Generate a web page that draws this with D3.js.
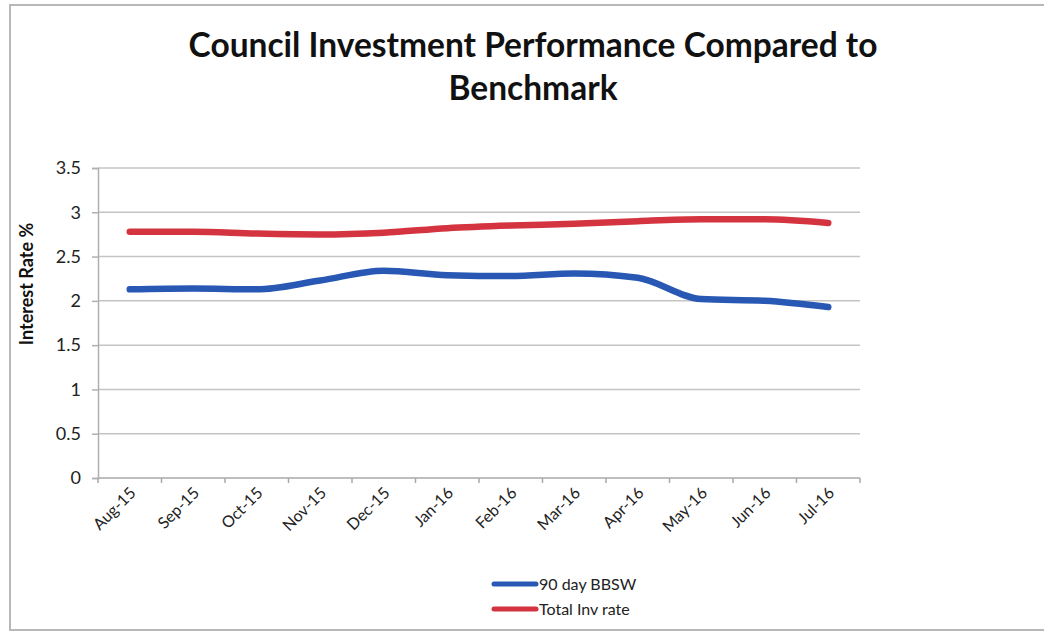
<!DOCTYPE html>
<html>
<head>
<meta charset="utf-8">
<script src="https://cdn.jsdelivr.net/npm/d3@7"></script>
<style>
  html, body { margin: 0; padding: 0; background: #fff; }
  svg { display: block; }
</style>
</head>
<body>
<svg id="chart" width="1044" height="633"></svg>
<script>
// Monthly rates, Aug 2015 – Jul 2016
const months = ["Aug-15","Sep-15","Oct-15","Nov-15","Dec-15","Jan-16","Feb-16","Mar-16","Apr-16","May-16","Jun-16","Jul-16"];
const bbsw90 = [2.13, 2.14, 2.13, 2.23, 2.34, 2.29, 2.28, 2.31, 2.26, 2.02, 2.00, 1.93];
const totalInv = [2.78, 2.78, 2.76, 2.75, 2.77, 2.82, 2.85, 2.87, 2.90, 2.92, 2.92, 2.88];
const yTicks = [0, 0.5, 1, 1.5, 2, 2.5, 3, 3.5];
const seriesNames = ["90 day BBSW", "Total Inv rate"];

const BLUE = "#2858b4";
const RED = "#d4343f";
const FONT = "Lato, 'Open Sans', sans-serif";

const svg = d3.select("#chart");

// outer chart frame
svg.append("path")
  .attr("d", "M1044,5 H10 V630 H1044")
  .attr("fill", "none")
  .attr("stroke", "#b8b8b8")
  .attr("stroke-width", 2);

const plot = { left: 98, right: 860, top: 168, bottom: 478 };

const x = d3.scaleBand().domain(months).range([plot.left, plot.right]).padding(0);
const y = d3.scaleLinear().domain([0, 3.5]).range([plot.bottom, plot.top]);
const cx = m => x(m) + x.bandwidth() / 2;

// horizontal gridlines
svg.append("g")
  .selectAll("line")
  .data(yTicks.filter(t => t > 0))
  .join("line")
  .attr("x1", plot.left).attr("x2", plot.right)
  .attr("y1", d => y(d)).attr("y2", d => y(d))
  .attr("stroke", "#c4c4c4")
  .attr("stroke-width", 1.5);

// y axis
const yAxis = svg.append("g")
  .attr("transform", `translate(${plot.left},0)`)
  .call(d3.axisLeft(y).tickValues(yTicks).tickFormat(d3.format("")).tickSize(6).tickPadding(11));
yAxis.select(".domain").attr("stroke", "#b0b0b0").attr("stroke-width", 1.5);
yAxis.selectAll(".tick line").attr("stroke", "#b0b0b0").attr("stroke-width", 1.5);
yAxis.selectAll(".tick text")
  .attr("font-family", FONT)
  .attr("font-size", 18)
  .attr("fill", "#222");

// x axis with ticks on category boundaries
const xAxisG = svg.append("g").attr("transform", `translate(0,${plot.bottom})`);
xAxisG.append("line")
  .attr("x1", plot.left).attr("x2", plot.right)
  .attr("stroke", "#a8a8a8").attr("stroke-width", 1.5);
xAxisG.selectAll("line.tk")
  .data(months.concat(["__end"]))
  .join("line")
  .attr("class", "tk")
  .attr("x1", (d, i) => i < months.length ? x(d) : plot.right)
  .attr("x2", (d, i) => i < months.length ? x(d) : plot.right)
  .attr("y1", 0).attr("y2", 5)
  .attr("stroke", "#a8a8a8").attr("stroke-width", 1.5);
xAxisG.selectAll("text")
  .data(months)
  .join("text")
  .attr("transform", d => `translate(${cx(d) + 7},${16}) rotate(-45)`)
  .attr("text-anchor", "end")
  .attr("font-family", FONT)
  .attr("font-size", 16)
  .attr("fill", "#222")
  .text(d => d);

// y axis title
svg.append("text")
  .attr("transform", `translate(33,284) rotate(-90)`)
  .attr("text-anchor", "middle")
  .attr("font-family", FONT)
  .attr("font-weight", 700)
  .attr("font-size", 18)
  .attr("fill", "#111")
  .text("Interest Rate %");

// series lines
const line = d3.line()
  .x((d, i) => cx(months[i]))
  .y(d => y(d))
  .curve(d3.curveMonotoneX);

[[bbsw90, BLUE], [totalInv, RED]].forEach(([vals, col]) => {
  svg.append("path")
    .datum(vals)
    .attr("d", line)
    .attr("fill", "none")
    .attr("stroke", col)
    .attr("stroke-width", 6.5)
    .attr("stroke-linecap", "round")
    .attr("stroke-linejoin", "round");
});

// title
const titleLines = ["Council Investment Performance Compared to", "Benchmark"];
const title = svg.append("g");
titleLines.forEach((t, i) => {
  title.append("text")
    .attr("x", 533)
    .attr("y", 57 + i * 43)
    .attr("text-anchor", "middle")
    .attr("font-family", FONT)
    .attr("font-weight", 700)
    .attr("font-size", 33.5)
    .attr("fill", "#111")
    .text(t);
});

// legend
const legend = svg.append("g").attr("transform", "translate(494,584)");
seriesNames.forEach((name, i) => {
  const g = legend.append("g").attr("transform", `translate(0,${i * 25})`);
  g.append("line")
    .attr("x1", 0).attr("x2", 42)
    .attr("stroke", [BLUE, RED][i])
    .attr("stroke-width", 5)
    .attr("stroke-linecap", "round");
  g.append("text")
    .attr("x", 45)
    .attr("y", 6)
    .attr("font-family", FONT)
    .attr("font-size", 16)
    .attr("fill", "#222")
    .text(name);
});
</script>
</body>
</html>
